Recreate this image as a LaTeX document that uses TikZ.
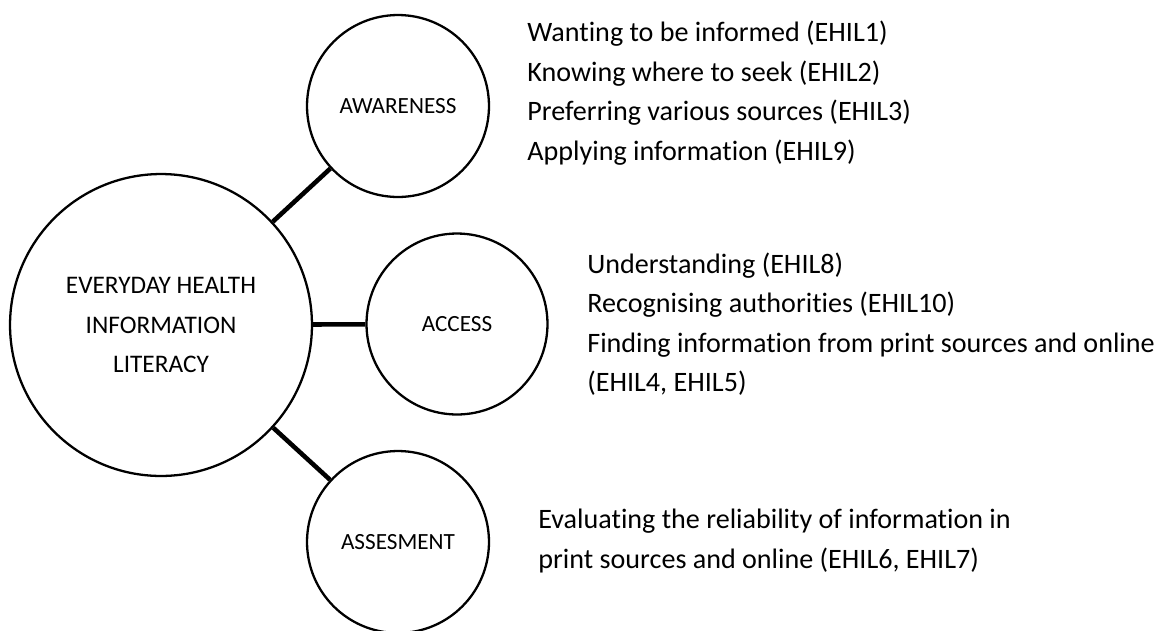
\documentclass[tikz,border=0pt]{standalone}
\usepackage{fontspec}
\setmainfont{Carlito}[Ligatures=NoCommon]
\usepackage{tikz}
\usetikzlibrary{positioning}

\begin{document}
\begin{tikzpicture}[x=0.02cm, y=-0.02cm,
    bubble/.style={draw, circle, line width=1.3pt, fill=white, inner sep=0pt, align=center, font=\fontsize{13.2}{15}\selectfont},
    link/.style={line width=2.6pt},
    itemlist/.style={anchor=west, align=left, inner sep=0pt, font=\fontsize{16}{22.5}\selectfont}]
        \useasboundingbox (0,0) rectangle (1157,630);

        % Central concept
        \node[bubble, minimum size=6.04cm, font=\fontsize{14.4}{22.7}\selectfont] (hub) at (161,325) {EVERYDAY HEALTH\\INFORMATION\\LITERACY};

        % Dimensions
        \node[bubble, minimum size=3.64cm] (awareness) at (398,106) {AWARENESS};
        \node[bubble, minimum size=3.62cm] (access) at (457,324) {ACCESS};
        \node[bubble, minimum size=3.64cm] (assessment) at (398,542) {ASSESMENT};

        \draw[link] (hub) -- (awareness);
        \draw[link] (hub) -- (access);
        \draw[link] (hub) -- (assessment);

        % Items of each dimension
        \node[itemlist] (awareness_items) at (527,93) {Wanting to be informed (EHIL1)\\Knowing where to seek (EHIL2)\\Preferring various sources (EHIL3)\\Applying information (EHIL9)};
        \node[itemlist] (access_items) at (587,324) {Understanding (EHIL8)\\Recognising authorities (EHIL10)\\Finding information from print sources and online\\(EHIL4, EHIL5)};
        \node[itemlist] (assessment_items) at (538,541) {Evaluating the reliability of information in\\print sources and online (EHIL6, EHIL7)};

    \end{tikzpicture}
\end{document}
